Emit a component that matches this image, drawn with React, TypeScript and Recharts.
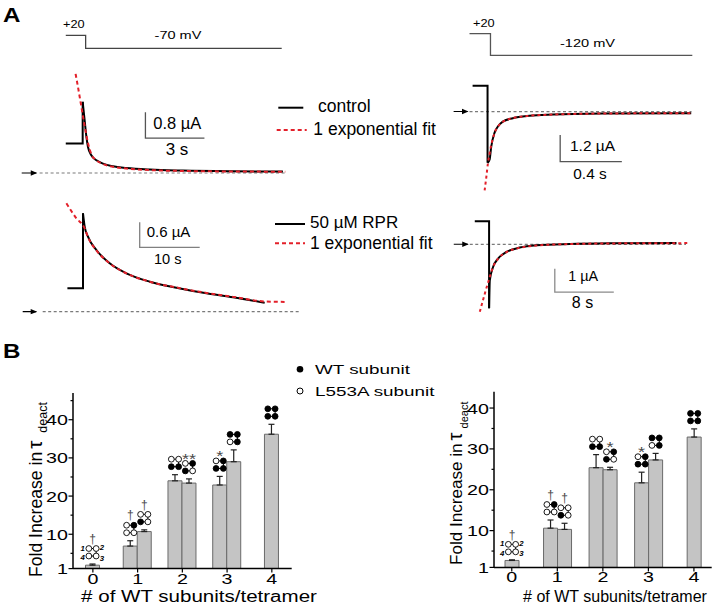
import React from 'react';
import { LineChart, Line, XAxis, YAxis, BarChart, Bar, ErrorBar, LabelList } from 'recharts';

const FONT = '"Liberation Sans", Arial, Helvetica, sans-serif';

// ================= Panel A: current traces (time s, current µA, voltage mV) =================
// control, tail step to -70 mV
const prot70 = [[-0.86, 20], [0.15, 20], [0.15, -70], [10.12, -70]];
const ctrl70Step = [[-0.86, 0.91], [0, 0.91], [0, 2.19]];
const ctrl70Decay = [[0, 2.19], [0.1, 1.62], [0.19, 1.11], [0.27, 0.8], [0.44, 0.545], [0.7, 0.39], [1.03, 0.29], [1.54, 0.206], [2.22, 0.154], [3.41, 0.105], [5.1, 0.074], [7.64, 0.052], [10.18, 0.043]];
const ctrl70Fit = [[-0.36, 3.05], [-0.24, 2.65], [-0.07, 2.05], [0.1, 1.45], [0.27, 0.92], [0.44, 0.58], [0.7, 0.39], [1.03, 0.28], [1.54, 0.19], [2.22, 0.135], [3.41, 0.09], [5.1, 0.062], [7.64, 0.047], [10.3, 0.04]];
const ctrl70Zero = [[-2.19, 0], [10.37, 0]];
const ctrl70Arrow = [[-3.1, 0], [-2.36, 0]];
const ctrl70Bar = { t0: 3.19, i0: 1.07, dt: 3, di: 0.8 };

// control, tail step to -120 mV
const prot120 = [[-0.117, 20], [0.019, 20], [0.019, -120], [1.328, -120]];
const ctrl120Step = [[-0.097, 1.16], [0, 1.16], [0, -2.31]];
const ctrl120Decay = [[0, -2.31], [0.013, -2.17], [0.024, -1.575], [0.045, -0.96], [0.067, -0.675], [0.099, -0.45], [0.164, -0.3], [0.272, -0.19], [0.423, -0.135], [0.746, -0.09], [1.321, -0.072]];
const ctrl120Fit = [[-0.019, -3.55], [-0.008, -2.95], [0.002, -2.35], [0.013, -1.9], [0.024, -1.5], [0.045, -0.97], [0.067, -0.68], [0.099, -0.46], [0.164, -0.3], [0.272, -0.19], [0.423, -0.135], [0.746, -0.09], [1.321, -0.075]];
const ctrl120Zero = [[-0.117, 0], [1.323, 0]];
const ctrl120Arrow = [[-0.22, 0], [-0.13, 0]];
const ctrl120Bar = { t0: 0.471, i0: -2.25, dt: 0.4, di: 1.2 };

// 50 µM RPR, -70 mV
const rpr70Step = [[-2.6, 0.56], [0, 0.56], [0, 2.36]];
const rpr70Decay = [[0, 2.36], [0.28, 2.04], [0.83, 1.8], [2.23, 1.48], [4.45, 1.16], [7.23, 0.92], [11.12, 0.72], [15.57, 0.576], [20.57, 0.44], [25.0, 0.346], [30.28, 0.216]];
const rpr70Fit = [[-2.77, 2.6], [-1.1, 2.24], [0.28, 2.0], [0.83, 1.79], [2.23, 1.47], [4.45, 1.16], [7.23, 0.92], [11.12, 0.72], [15.57, 0.58], [20.57, 0.45], [25.0, 0.355], [30.3, 0.245], [33.6, 0.235]];
const rpr70Zero = [[-6.72, 0], [36.1, 0]];
const rpr70Arrow = [[-10.05, 0], [-7.8, 0]];
const rpr70Bar = { t0: 9.45, i0: 1.545, dt: 10, di: 0.6 };

// 50 µM RPR, -120 mV
const rpr120Step = [[-1.94, 0.99], [0, 0.99], [0, -2.75]];
const rpr120Decay = [[0, -2.75], [0.095, -1.545], [0.54, -0.974], [1.22, -0.614], [2.36, -0.33], [4.16, -0.142], [6.43, -0.043], [10.94, 0.013], [17.72, 0.043], [25.41, 0.056]];
const rpr120Fit = [[-1.26, -2.9], [-0.58, -2.12], [0.095, -1.4], [0.54, -0.974], [1.22, -0.62], [2.36, -0.335], [4.16, -0.15], [6.43, -0.05], [10.94, 0.01], [17.72, 0.04], [27.0, 0.05]];
const rpr120Zero = [[-2.62, 0], [26.7, 0]];
const rpr120Arrow = [[-4.79, 0], [-2.89, 0]];
const rpr120Bar = { t0: 8.91, i0: -2.05, dt: 8, di: 1 };

// ================= Panel B: fold increase in tau_deact =================
const groups = ['0', '1', '2', '3', '4'];
// left graph
const leftA = [null, 6.9, 24.0, 22.9, null];
const leftAErr = [null, 1.4, 1.6, 2.25, null];
const leftB = [null, 10.7, 23.4, 29.0, null];
const leftBErr = [null, 0.45, 1.1, 3.1, null];
const leftS = [1.9, null, null, null, 36.2];
const leftSErr = [0.3, null, null, null, 2.6];
// right graph
const rightA = [null, 10.6, 25.4, 21.7, null];
const rightAErr = [null, 2.0, 3.2, 2.6, null];
const rightB = [null, 10.3, 24.9, 27.3, null];
const rightBErr = [null, 1.5, 0.6, 1.6, null];
const rightS = [2.7, null, null, null, 32.9];
const rightSErr = [0.15, null, null, null, 2.0];
// subunit arrangement (positions 1,2,3,4 ; f = WT filled, o = L553A open)
const patA = [null, 'ofoo', 'ooff', 'offf', null];
const patB = [null, 'ooof', 'ofof', 'fffo', null];
const patS = ['oooo', null, null, null, 'ffff'];
// significance marks
const leftMarkA = ['', '†', '', '*', ''];
const leftMarkB = ['', '†', '**', '', ''];
const leftMarkS = ['†', '', '', '', ''];
const rightMarkA = ['', '†', '', '*', ''];
const rightMarkB = ['', '†', '*', '', ''];
const rightMarkS = ['†', '', '', '', ''];
const yTicksLeft = [1, 5, 10, 15, 20, 25, 30, 35, 40, 45];
const yTicksRight = [1, 5, 10, 15, 20, 25, 30, 35, 40];
const yMajor = [1, 10, 20, 30, 40];

// ================= helpers =================
type Cal = { x0: number; y0: number; kx: number; ky: number };
const pts = (arr: number[][]) => arr.map(([t, i]) => ({ t, i }));
const scaleBar = (b: { t0: number; i0: number; dt: number; di: number }) => [[b.t0, b.i0 + b.di], [b.t0, b.i0], [b.t0 + b.dt, b.i0]];

function Frame({ cal, xd, yd, children }: { cal: Cal; xd: [number, number]; yd: [number, number]; children?: React.ReactNode }) {
  const left = cal.x0 + xd[0] * cal.kx;
  const top = cal.y0 - yd[1] * cal.ky;
  const width = (xd[1] - xd[0]) * cal.kx;
  const height = (yd[1] - yd[0]) * cal.ky;
  return (
    <div style={{ position: 'absolute', left, top, width, height }}>
      <LineChart width={width} height={height} margin={{ top: 0, right: 0, bottom: 0, left: 0 }}>
        <XAxis type="number" dataKey="t" domain={xd} hide allowDataOverflow />
        <YAxis type="number" domain={yd} hide allowDataOverflow />
        {children}
      </LineChart>
    </div>
  );
}

const tr = (data: number[][], stroke: string, w: number, dash?: string, curve: 'linear' | 'monotoneX' = 'linear') => (
  <Line data={pts(data)} dataKey="i" type={curve} stroke={stroke} strokeWidth={w} strokeDasharray={dash}
    dot={false} activeDot={false} isAnimationActive={false} />
);

const arrowDot = (p: any) =>
  p.index === 1 ? (
    <path key={`ah${p.index}`} d={`M${p.cx - 5.5},${p.cy - 2.7}L${p.cx + 1},${p.cy}L${p.cx - 5.5},${p.cy + 2.7}Z`} fill="#000" />
  ) : (
    <g key={`ah${p.index}`} />
  );
const arrow = (data: number[][]) => (
  <Line data={pts(data)} dataKey="i" type="linear" stroke="#000" strokeWidth={1.1} dot={arrowDot} activeDot={false} isAnimationActive={false} />
);

function T({ x, y, s, sx = 1, anchor = 'start', bold, italic, fill = '#000', children }: any) {
  return (
    <text transform={`translate(${x},${y}) scale(${sx},1)`} fontSize={s} textAnchor={anchor} fontFamily={FONT}
      fontWeight={bold ? 'bold' : 'normal'} fontStyle={italic ? 'italic' : 'normal'} fill={fill}>
      {children}
    </text>
  );
}

// ---------- bar chart ----------
type FoldProps = {
  left: number; top: number; w: number; h: number;
  m: { top: number; right: number; bottom: number; left: number };
  yMax: number; ticks: number[]; xPad: number;
  A: (number | null)[]; AE: (number | null)[]; B: (number | null)[]; BE: (number | null)[]; S: (number | null)[]; SE: (number | null)[];
  MA: string[]; MB: string[]; MS: string[];
};

function Fold(p: FoldProps) {
  const plotH = p.h - p.m.top - p.m.bottom - 30;
  const kpx = plotH / (p.yMax - 1);
  const rows = groups.map((g, k) => ({
    g,
    a: p.A[k], b: p.B[k], s: p.S[k],
    ea: p.AE[k] == null ? null : [0, p.AE[k]],
    eb: p.BE[k] == null ? null : [0, p.BE[k]],
    es: p.SE[k] == null ? null : [0, p.SE[k]],
  }));

  const sym = (vals: (number | null)[], errs: (number | null)[], pats: (string | null)[], marks: string[]) => (lp: any) => {
    const k = groups.indexOf(String(lp.value));
    if (k < 0 || pats[k] == null || vals[k] == null) return null;
    const vb = lp.viewBox && lp.viewBox.width != null ? lp.viewBox : lp;
    const cx = vb.x + vb.width / 2;
    const errTop = vb.y - (errs[k] ?? 0) * kpx;
    const yb = errTop - 8;
    const yt = yb - 7.5;
    const dx = 3.65;
    const P = [[cx - dx, yt], [cx + dx, yt], [cx + dx, yb], [cx - dx, yb]];
    const pat = pats[k] as string;
    const mk = marks[k];
    return (
      <g key={`sym${k}`}>
        <line x1={P[0][0]} y1={yt} x2={P[1][0]} y2={yt} stroke="#000" strokeWidth={1} />
        <line x1={P[1][0]} y1={yt} x2={P[2][0]} y2={yb} stroke="#000" strokeWidth={1} />
        <line x1={P[2][0]} y1={yb} x2={P[3][0]} y2={yb} stroke="#000" strokeWidth={1} />
        {P.map((q, j) => (
          <circle key={j} cx={q[0]} cy={q[1]} r={2.9} fill={pat[j] === 'f' ? '#000' : '#fff'} stroke="#000" strokeWidth={0.9} />
        ))}
        {k === 0 && (
          <g>
            <T x={P[0][0] - 4} y={yt + 2} s={7.8} anchor="end" bold italic>1</T>
            <T x={P[1][0] + 3.6} y={yt + 1.5} s={7.8} bold italic>2</T>
            <T x={P[2][0] + 3.6} y={yb + 4.6} s={7.8} bold italic>3</T>
            <T x={P[3][0] - 4} y={yb + 4.2} s={7.8} anchor="end" bold italic>4</T>
          </g>
        )}
        {mk === '†' && <T x={cx} y={yt - 5.8} s={12} anchor="middle" fill="#4a4a4a">†</T>}
        {mk && mk !== '†' && <T x={cx} y={yt + 0.5} s={14} sx={1.3} anchor="middle" fill="#4a4a4a">{mk}</T>}
      </g>
    );
  };

  const xTick = (tp: any) => (
    <g>
      <line x1={tp.x} x2={tp.x} y1={tp.y} y2={tp.y + 4} stroke="#000" strokeWidth={1.2} />
      <T x={tp.x} y={tp.y + 15} s={15.5} sx={1.27} anchor="middle">{tp.payload.value}</T>
    </g>
  );
  const yTick = (tp: any) => {
    const v = tp.payload.value;
    const major = yMajor.includes(v);
    const len = major ? 4.5 : 2.5;
    return (
      <g>
        <line x1={tp.x} x2={tp.x - len} y1={tp.y} y2={tp.y} stroke="#000" strokeWidth={1.2} />
        {major && <T x={tp.x - len - 0.5} y={tp.y + 5.5} s={15.5} sx={1.27} anchor="end">{v}</T>}
      </g>
    );
  };
  const barStyle = { fill: '#c4c4c4', stroke: '#6a6a6a', strokeWidth: 1 };
  const eb = { width: 3, stroke: '#222', strokeWidth: 1.2 };

  return (
    <div style={{ position: 'absolute', left: p.left, top: p.top, width: p.w, height: p.h }}>
      <BarChart width={p.w} height={p.h} data={rows} margin={p.m} barGap={0} barSize={14}>
        <XAxis xAxisId="p" dataKey="g" type="category" interval={0} tickSize={0} tickMargin={0} tickLine={false}
          tick={xTick} height={30} axisLine={{ stroke: '#000', strokeWidth: 1.5 }} padding={{ left: p.xPad, right: p.xPad }} />
        <XAxis xAxisId="s" dataKey="g" type="category" hide padding={{ left: p.xPad, right: p.xPad }} />
        <YAxis type="number" domain={[1, p.yMax]} ticks={p.ticks} interval={0} tickSize={0} tickMargin={0} tickLine={false}
          tick={yTick} width={40} allowDataOverflow axisLine={{ stroke: '#000', strokeWidth: 1.5 }} />
        <Bar xAxisId="p" dataKey="a" {...barStyle} isAnimationActive={false}>
          <ErrorBar dataKey="ea" direction="y" {...eb} />
          <LabelList dataKey="g" content={sym(p.A, p.AE, patA, p.MA)} />
        </Bar>
        <Bar xAxisId="p" dataKey="b" {...barStyle} isAnimationActive={false}>
          <ErrorBar dataKey="eb" direction="y" {...eb} />
          <LabelList dataKey="g" content={sym(p.B, p.BE, patB, p.MB)} />
        </Bar>
        <Bar xAxisId="s" dataKey="s" {...barStyle} isAnimationActive={false}>
          <ErrorBar dataKey="es" direction="y" {...eb} />
          <LabelList dataKey="g" content={sym(p.S, p.SE, patS, p.MS)} />
        </Bar>
      </BarChart>
    </div>
  );
}

function YLab({ x, y, fs, subFs, subDy, subDx }: any) {
  return (
    <text transform={`translate(${x},${y}) rotate(-90)`} fontFamily={FONT} fontSize={fs} fill="#000">
      {'Fold Increase in'}
      <tspan dx={3} fontSize={fs + 3}>τ</tspan>
      <tspan fontSize={subFs} dy={subDy} dx={subDx}>deact</tspan>
    </text>
  );
}

const calP70: Cal = { x0: 83, y0: 37.9, kx: 19.67, ky: 0.1444 };
const calC70: Cal = { x0: 83, y0: 172.7, kx: 19.67, ky: 32.5 };
const calP120: Cal = { x0: 488, y0: 36.4, kx: 154.2, ky: 0.155 };
const calC120: Cal = { x0: 488, y0: 111.7, kx: 154.2, ky: 22.22 };
const calR70: Cal = { x0: 83.3, y0: 311.7, kx: 6.0, ky: 41.67 };
const calR120: Cal = { x0: 489.3, y0: 244, kx: 7.375, ky: 23.3 };

const RED = '#e3202a';
const GRAY = '#7a7a7a';

export default function App() {
  return (
    <div style={{ position: 'absolute', left: 0, top: 0, width: 714, height: 609, background: '#fff', overflow: 'hidden' }}>
      {/* voltage protocols */}
      <Frame cal={calP70} xd={[-4, 11.5]} yd={[-100, 50]}>
        {tr(prot70, '#444', 1.3)}
      </Frame>
      <Frame cal={calP120} xd={[-0.25, 1.45]} yd={[-150, 50]}>
        {tr(prot120, '#555', 1.3)}
      </Frame>

      {/* control -70 mV */}
      <Frame cal={calC70} xd={[-4, 11.5]} yd={[-0.6, 3.6]}>
        {tr(ctrl70Zero, GRAY, 1.2, '3 2.5')}
        {arrow(ctrl70Arrow)}
        {tr(scaleBar(ctrl70Bar), '#555', 1.3)}
        {tr(ctrl70Step, '#000', 2)}
        {tr(ctrl70Decay, '#000', 2, undefined, 'monotoneX')}
        {tr(ctrl70Fit, RED, 2, '4 3', 'monotoneX')}
      </Frame>

      {/* control -120 mV */}
      <Frame cal={calC120} xd={[-0.25, 1.45]} yd={[-4, 1.6]}>
        {tr(ctrl120Zero, GRAY, 1.2, '3 2.5')}
        {arrow(ctrl120Arrow)}
        {tr(scaleBar(ctrl120Bar), '#555', 1.3)}
        {tr(ctrl120Step, '#000', 2)}
        {tr(ctrl120Decay, '#000', 2, undefined, 'monotoneX')}
        {tr(ctrl120Fit, RED, 2, '3 3', 'monotoneX')}
      </Frame>

      {/* RPR -70 mV */}
      <Frame cal={calR70} xd={[-13, 36.5]} yd={[-0.3, 2.8]}>
        {tr(rpr70Zero, GRAY, 1.2, '3 2.5')}
        {arrow(rpr70Arrow)}
        {tr(scaleBar(rpr70Bar), '#808080', 1.3)}
        {tr(rpr70Step, '#000', 2)}
        {tr(rpr70Decay, '#000', 2, undefined, 'monotoneX')}
        {tr(rpr70Fit, RED, 2, '4 3', 'monotoneX')}
      </Frame>

      {/* RPR -120 mV */}
      <Frame cal={calR120} xd={[-5.3, 30]} yd={[-3.5, 1.6]}>
        {tr(rpr120Zero, GRAY, 1.2, '3 2.5')}
        {arrow(rpr120Arrow)}
        {tr(scaleBar(rpr120Bar), '#8a8a8a', 1.3)}
        {tr(rpr120Step, '#000', 2)}
        {tr(rpr120Decay, '#000', 2, undefined, 'monotoneX')}
        {tr(rpr120Fit, RED, 2, '3 3', 'monotoneX')}
      </Frame>

      {/* panel B bar graphs */}
      <Fold left={0} top={380} w={300} h={229} m={{ top: 13, right: 8.3, bottom: 10.4, left: 33 }}
        yMax={47} ticks={yTicksLeft} xPad={-2.5}
        A={leftA} AE={leftAErr} B={leftB} BE={leftBErr} S={leftS} SE={leftSErr}
        MA={leftMarkA} MB={leftMarkB} MS={leftMarkS} />
      <Fold left={420} top={380} w={294} h={229} m={{ top: 11.7, right: 2.3, bottom: 11.6, left: 34 }}
        yMax={44} ticks={yTicksRight} xPad={-5}
        A={rightA} AE={rightAErr} B={rightB} BE={rightBErr} S={rightS} SE={rightSErr}
        MA={rightMarkA} MB={rightMarkB} MS={rightMarkS} />

      {/* text & legend overlay */}
      <svg width={714} height={609} style={{ position: 'absolute', left: 0, top: 0, pointerEvents: 'none' }}>
        <T x={3} y={22} s={21} sx={1.15} bold>A</T>
        <T x={3} y={358.3} s={21} sx={1.15} bold>B</T>

        <T x={63} y={28.3} s={11} sx={1.16}>+20</T>
        <T x={178} y={39.3} s={11} sx={1.32} anchor="middle">-70 mV</T>
        <T x={473} y={26.7} s={11} sx={1.16}>+20</T>
        <T x={587.5} y={46.7} s={11.5} sx={1.27} anchor="middle">-120 mV</T>

        <T x={153.3} y={129.3} s={16.5}>0.8 µA</T>
        <T x={177} y={155} s={17} anchor="middle">3 s</T>
        <T x={570} y={150.7} s={15.5}>1.2 µA</T>
        <T x={590} y={179} s={15.4} anchor="middle">0.4 s</T>
        <T x={146.7} y={236.7} s={15}>0.6 µA</T>
        <T x={167.8} y={264} s={14.6} anchor="middle">10 s</T>
        <T x={568.3} y={280.7} s={14.4}>1 µA</T>
        <T x={582.5} y={308.3} s={16} anchor="middle">8 s</T>

        <line x1={278.3} x2={303.3} y1={107.7} y2={107.7} stroke="#000" strokeWidth={2} />
        <T x={318} y={112.3} s={17.5}>control</T>
        <line x1={276.7} x2={306.7} y1={130} y2={130} stroke={RED} strokeWidth={2} strokeDasharray="4 3" />
        <T x={313.3} y={134.5} s={17.5}>1 exponential fit</T>
        <line x1={275} x2={305} y1={224} y2={224} stroke="#000" strokeWidth={2} />
        <T x={310} y={228.3} s={17}>50 µM RPR</T>
        <line x1={275} x2={305} y1={243.3} y2={243.3} stroke={RED} strokeWidth={2} strokeDasharray="4 3" />
        <T x={310} y={249} s={17.5}>1 exponential fit</T>

        <circle cx={300} cy={369.3} r={3.3} fill="#000" />
        <T x={315} y={374} s={13} sx={1.45}>WT subunit</T>
        <circle cx={300} cy={391} r={3} fill="#fff" stroke="#000" strokeWidth={1} />
        <T x={315} y={395.7} s={13} sx={1.45}>L553A subunit</T>

        <T x={199} y={601.5} s={15.8} sx={1.3} anchor="middle"># of WT subunits/tetramer</T>
        <T x={615} y={602} s={16} sx={1.0} anchor="middle"># of WT subunits/tetramer</T>

        <YLab x={42} y={577} fs={17.6} subFs={12.5} subDy={5} subDx={8} />
        <YLab x={461.7} y={565} fs={17.1} subFs={11} subDy={6} subDx={4} />
      </svg>
    </div>
  );
}
